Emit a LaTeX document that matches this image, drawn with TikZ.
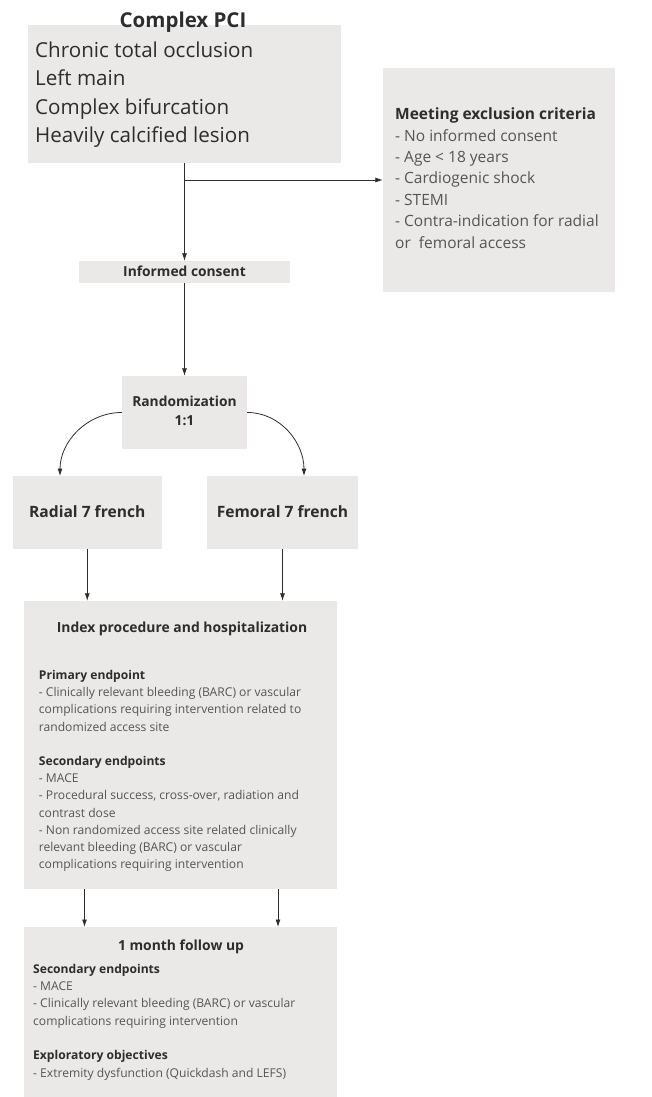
\documentclass[tikz,border=0pt]{standalone}
\usepackage{fontspec}
\setmainfont{Open Sans}
\usetikzlibrary{arrows.meta}
\definecolor{boxgray}{RGB}{234,233,232}
\definecolor{ink}{RGB}{45,45,45}
\definecolor{softink}{RGB}{85,85,85}
\newcommand\fsz[2]{\fontsize{#1}{#2}\selectfont}
\tikzset{
    box/.style={rectangle, fill=boxgray, draw=none, inner sep=0pt},
    txt/.style={anchor=base west, inner sep=0pt, align=left, text=softink},
    head/.style={anchor=base, inner sep=0pt, align=center, text=ink},
    arrow/.style={-{Latex[length=7.5pt,width=5pt]}, draw=ink, line width=0.8pt}
}

\begin{document}
\begin{tikzpicture}[x=1pt,y=-1pt]
	\useasboundingbox (0,0) rectangle (652,1097);
	\node[box, minimum width=313pt, minimum height=138pt] (pci) at (184.5,94) {};
	\node[box, minimum width=232pt, minimum height=224pt] (excl) at (499,180) {};
	\node[box, minimum width=211pt, minimum height=22pt] (consent) at (184.5,272) {};
	\node[box, minimum width=125pt, minimum height=73pt] (rand) at (184.5,412.5) {};
	\node[box, minimum width=149.5pt, minimum height=73pt] (radial) at (87.25,512.5) {};
	\node[box, minimum width=151pt, minimum height=73pt] (femoral) at (282.5,512.5) {};
	\node[box, minimum width=313pt, minimum height=288pt] (index) at (180.5,745) {};
	\node[box, minimum width=313pt, minimum height=170pt] (followup) at (180.5,1012) {};

	% base anchor of a multi-line node sits on its last line
	\node[head, font=\fsz{20.5}{24}\bfseries] (pcititle) at (183,27.5) {Complex PCI};
	\node[txt, text=ink, font=\fsz{20.6}{28.5}] (pcilist) at (35,142.7)
		{Chronic total occlusion\\Left main\\Complex bifurcation\\Heavily calcified lesion};
	\node[txt, font=\fsz{15.5}{21.4}] (excltext) at (395,248)
		{\textcolor{ink}{\bfseries Meeting exclusion criteria}\\- No informed consent\\- Age < 18 years\\- Cardiogenic shock\\- STEMI\\- Contra-indication for radial\\or~ femoral access};
	\node[head, font=\fsz{13.8}{16}\bfseries] (consenttext) at (184.5,276) {Informed consent};
	\node[head, font=\fsz{13.8}{19.7}\bfseries] (randtext) at (184.5,425.7) {Randomization\\1:1};
	\node[head, font=\fsz{15.6}{19}\bfseries] (radialtext) at (87.25,517) {Radial 7 french};
	\node[head, font=\fsz{15.6}{19}\bfseries] (femoraltext) at (282.5,517) {Femoral 7 french};
	\node[head, font=\fsz{13.9}{18}\bfseries] (indextitle) at (182,632) {Index procedure and hospitalization};
	\node[txt, font=\fsz{12.1}{17.2}] (indextext) at (38.75,868.7)
		{\textcolor{ink}{\bfseries Primary endpoint}\\- Clinically relevant bleeding (BARC) or vascular\\complications requiring intervention related to\\randomized access site\\[17.2pt]
		\textcolor{ink}{\bfseries Secondary endpoints}\\- MACE\\- Procedural success, cross-over, radiation and\\contrast dose\\- Non randomized access site related clinically\\relevant bleeding (BARC) or vascular\\complications requiring intervention};
	\node[head, font=\fsz{13.9}{18}\bfseries] (followtitle) at (181,950) {1 month follow up};
	\node[txt, font=\fsz{12.1}{17.3}] (followtext) at (33,1077)
		{\textcolor{ink}{\bfseries Secondary endpoints}\\- MACE\\- Clinically relevant bleeding (BARC) or vascular\\complications requiring intervention\\[17.3pt]
		\textcolor{ink}{\bfseries Exploratory objectives}\\- Extremity dysfunction (Quickdash and LEFS)};

	\coordinate (branch) at (184.5,180);
	\coordinate (radin) at (60,476);
	\coordinate (femin) at (304,476);
	\coordinate (leftin) at (84.5,927);
	\coordinate (rightin) at (278,927);
	\draw[arrow] (pci.south) -- (consent.north);
	\draw[arrow] (branch) -- (excl.west);
	\draw[arrow] (consent.south) -- (rand.north);
	\draw[arrow] (rand.west) to[out=180, in=90] (radin);
	\draw[arrow] (rand.east) to[out=0, in=90] (femin);
	\draw[arrow] (radial.south) -- (radial.south |- index.north);
	\draw[arrow] (femoral.south) -- (femoral.south |- index.north);
	\draw[arrow] (index.south -| leftin) -- (leftin);
	\draw[arrow] (index.south -| rightin) -- (rightin);
\end{tikzpicture}
\end{document}
